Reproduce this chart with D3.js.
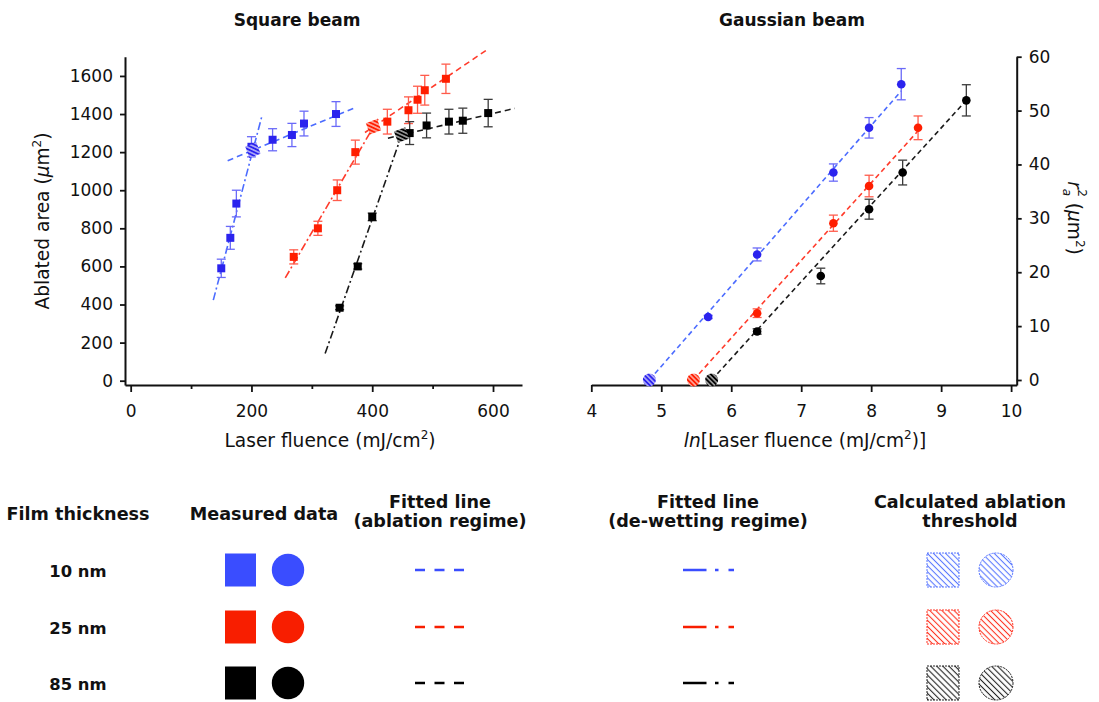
<!DOCTYPE html>
<html>
<head>
<meta charset="utf-8">
<script src="https://cdn.jsdelivr.net/npm/d3@7"></script>
<style>
  body { margin: 0; background: #fff; }
  svg { display: block; }
  text { font-family: "DejaVu Sans", "Liberation Sans", sans-serif; fill: #111; }
</style>
</head>
<body>
<svg id="fig" width="1099" height="702"></svg>
<script>
// ---- film thicknesses and colours ----
const thicknessLabels = ["10 nm", "25 nm", "85 nm"];
const markerColor = ["#2b23ee", "#ff1e00", "#000000"];
const fitColor    = ["#4c6cff", "#ff3b2b", "#1a1a1a"];
const errColor    = ["#6a6af8", "#ff5b4b", "#3a3a3a"];
const legendColor = ["#3a4dff", "#f81e00", "#000000"];
const hatchColor  = ["#5a78ff", "#ff3322", "#222222"];

// ---- square beam: fluence (mJ/cm2) vs ablated area (um2) ----
const sqFluence10 = [150, 165, 175, 200, 235, 267, 287, 340];
const sqArea10    = [590, 750, 930, 1228, 1265, 1290, 1350, 1400];
const sqErr10     = [48, 60, 70, 53, 58, 61, 65, 65];
const sqFluence25 = [270, 310, 342, 372, 425, 460, 475, 487, 522];
const sqArea25    = [650, 800, 1000, 1200, 1360, 1420, 1475, 1525, 1585];
const sqErr25     = [37, 37, 54, 63, 65, 70, 71, 78, 77];
const sqFluence85 = [346, 376, 400, 462, 490, 527, 550, 592];
const sqArea85    = [383, 600, 860, 1300, 1340, 1360, 1365, 1405];
const sqErr85     = [10, 14, 20, 60, 65, 65, 66, 72];

// linear fits, area = slope * fluence + intercept
const sqAblSlope     = [1.32, 2.15, 0.746];
const sqAblIntercept = [943, 468.7, 955.3];
const sqAblRange     = [[160.6, 368.5], [388, 590], [426, 636]];
const sqDewSlope     = [12.0, 5.43, 9.06];
const sqDewIntercept = [-1218.6, -850.3, -2775];
const sqDewRange     = [[136.8, 216.9], [256, 412], [322, 452]];

// ---- gaussian beam: ln(fluence) vs r_a^2 (um2) ----
const gaLnF10 = [5.67, 6.37, 7.46, 7.97, 8.43];
const gaR10   = [11.7, 23.3, 38.5, 46.8, 54.9];
const gaErr10 = [0.3, 1.2, 1.6, 1.9, 2.9];
const gaLnF25 = [6.37, 7.46, 7.97, 8.67];
const gaR25   = [12.4, 29.1, 36.0, 46.8];
const gaErr25 = [0.8, 1.5, 2.0, 2.2];
const gaLnF85 = [6.37, 7.28, 7.97, 8.45, 9.36];
const gaR85   = [9.0, 19.3, 31.7, 38.5, 51.9];
const gaErr85 = [0.5, 1.45, 1.85, 2.3, 2.9];

// fits r^2 = slope * (lnF - lnF_th)
const gaThreshold = [4.83, 5.46, 5.72];
const gaSlope     = [14.9, 14.4, 14.26];
const gaFitEnd    = [8.43, 8.66, 9.36];

// ---- tick values ----
const sqXTicks = [0, 200, 400, 600];
const sqXMinor = [100, 300, 500];
const sqYTicks = [0, 200, 400, 600, 800, 1000, 1200, 1400, 1600];
const gaXTicks = [4, 5, 6, 7, 8, 9, 10];
const gaYTicks = [0, 10, 20, 30, 40, 50, 60];

const zip = (xs, ys, es) => xs.map((x, i) => ({ x, y: ys[i], e: es[i] }));
const sqSeries = [
  zip(sqFluence10, sqArea10, sqErr10),
  zip(sqFluence25, sqArea25, sqErr25),
  zip(sqFluence85, sqArea85, sqErr85)
];
const gaSeries = [
  zip(gaLnF10, gaR10, gaErr10),
  zip(gaLnF25, gaR25, gaErr25),
  zip(gaLnF85, gaR85, gaErr85)
];

const svg = d3.select("#fig");
const defs = svg.append("defs");
const intFmt = d3.format("d");
const TICK_FS = 17, LABEL_FS = 18.6, SUP_FS = 12;

function hatch(id, bg, stroke, gap, width) {
  const p = defs.append("pattern").attr("id", id)
    .attr("patternUnits", "userSpaceOnUse")
    .attr("width", gap).attr("height", gap)
    .attr("patternTransform", "rotate(-45)");
  if (bg) p.append("rect").attr("width", gap).attr("height", gap).attr("fill", bg);
  p.append("line").attr("x1", gap / 2).attr("y1", -1).attr("x2", gap / 2).attr("y2", gap + 1)
    .attr("stroke", stroke).attr("stroke-width", width);
}
[0, 1, 2].forEach(i => {
  hatch("lg" + i, "#fff", hatchColor[i], 4.3, 1.1);
  hatch("mk" + i, markerColor[i], "#fff", 3.4, 1.0);
});

// ---- scales ----
const xL = d3.scaleLinear([-9.4, 648], [125, 522]);
const yL = d3.scaleLinear([-22.6, 1701], [385, 56.7]);
const xR = d3.scaleLinear([4, 10.08], [591.3, 1016.7]);
const yR = d3.scaleLinear([-0.93, 60], [385, 56.7]);

function styleAxis(g, fs) {
  g.attr("font-family", null).attr("font-size", null);
  g.selectAll(".domain").attr("stroke", "#111").attr("stroke-width", 2);
  g.selectAll(".tick line").attr("stroke", "#111").attr("stroke-width", 1.8);
  g.selectAll(".tick text").attr("font-size", fs).attr("fill", "#111");
}

// ---- square beam axes ----
styleAxis(svg.append("g").attr("transform", "translate(0,385)")
  .call(d3.axisBottom(xL).tickValues(sqXTicks).tickFormat(intFmt)
    .tickSize(7).tickSizeOuter(0).tickPadding(13)), TICK_FS);
svg.append("g").attr("transform", "translate(0,385)")
  .call(d3.axisBottom(xL).tickValues(sqXMinor).tickSize(4).tickFormat(""))
  .call(g => g.select(".domain").remove())
  .call(g => styleAxis(g, TICK_FS));
styleAxis(svg.append("g").attr("transform", "translate(125,0)")
  .call(d3.axisLeft(yL).tickValues(sqYTicks).tickFormat(intFmt)
    .tickSize(5).tickSizeOuter(0).tickPadding(7)), TICK_FS);

// ---- gaussian beam axes ----
styleAxis(svg.append("g").attr("transform", "translate(0,385)")
  .call(d3.axisBottom(xR).tickValues(gaXTicks).tickFormat(intFmt)
    .tickSize(7).tickSizeOuter(0).tickPadding(13)), TICK_FS);
styleAxis(svg.append("g").attr("transform", "translate(1016.7,0)")
  .call(d3.axisRight(yR).tickValues(gaYTicks).tickFormat(intFmt)
    .tickSize(5).tickSizeOuter(0).tickPadding(7)), TICK_FS);

// ---- titles and axis labels ----
svg.append("text").attr("x", 297).attr("y", 26).attr("text-anchor", "middle")
  .attr("font-size", 17).attr("font-weight", "bold").text("Square beam");
svg.append("text").attr("x", 792).attr("y", 26).attr("text-anchor", "middle")
  .attr("font-size", 17).attr("font-weight", "bold").text("Gaussian beam");

const xlabL = svg.append("text").attr("x", 330).attr("y", 447).attr("text-anchor", "middle").attr("font-size", LABEL_FS);
xlabL.append("tspan").text("Laser fluence (mJ/cm");
xlabL.append("tspan").attr("font-size", SUP_FS).attr("dy", -8).text("2");
xlabL.append("tspan").attr("dy", 8).text(")");

const xlabR = svg.append("text").attr("x", 805).attr("y", 447).attr("text-anchor", "middle").attr("font-size", LABEL_FS);
xlabR.append("tspan").attr("font-style", "italic").text("ln");
xlabR.append("tspan").text("[Laser fluence (mJ/cm");
xlabR.append("tspan").attr("font-size", SUP_FS).attr("dy", -8).text("2");
xlabR.append("tspan").attr("dy", 8).text(")]");

const ylabL = svg.append("text").attr("transform", "translate(49,221) rotate(-90)")
  .attr("text-anchor", "middle").attr("font-size", LABEL_FS);
ylabL.append("tspan").text("Ablated area (");
ylabL.append("tspan").attr("font-style", "italic").text("\u03bc");
ylabL.append("tspan").text("m");
ylabL.append("tspan").attr("font-size", SUP_FS).attr("dy", -8).text("2");
ylabL.append("tspan").attr("dy", 8).text(")");

const ylabR = svg.append("text").attr("transform", "translate(1068,218) rotate(90)")
  .attr("text-anchor", "middle").attr("font-size", LABEL_FS);
ylabR.append("tspan").attr("font-style", "italic").text("r");
ylabR.append("tspan").attr("font-style", "italic").attr("font-size", SUP_FS).attr("dy", 5).text("a");
ylabR.append("tspan").attr("font-size", SUP_FS).attr("dx", -7).attr("dy", -15).text("2");
ylabR.append("tspan").attr("dy", 10).text(" (");
ylabR.append("tspan").attr("font-style", "italic").text("\u03bc");
ylabR.append("tspan").text("m");
ylabR.append("tspan").attr("font-size", SUP_FS).attr("dy", -8).text("2");
ylabR.append("tspan").attr("dy", 8).text(")");

// ---- square beam fits ----
const plotL = svg.append("g");
[0, 1, 2].forEach(i => {
  const abl = sqAblRange[i].map(x => [xL(x), yL(sqAblSlope[i] * x + sqAblIntercept[i])]);
  const dew = sqDewRange[i].map(x => [xL(x), yL(sqDewSlope[i] * x + sqDewIntercept[i])]);
  plotL.append("path").attr("d", d3.line()(dew)).attr("fill", "none")
    .attr("stroke", fitColor[i]).attr("stroke-width", 1.6).attr("stroke-dasharray", "8,3,2,3");
  plotL.append("path").attr("d", d3.line()(abl)).attr("fill", "none")
    .attr("stroke", fitColor[i]).attr("stroke-width", 1.6).attr("stroke-dasharray", "6,4");
});

// ---- gaussian beam fits ----
const plotR = svg.append("g");
[0, 1, 2].forEach(i => {
  const pts = [gaThreshold[i], gaFitEnd[i]].map(x => [xR(x), yR(gaSlope[i] * (x - gaThreshold[i]))]);
  plotR.append("path").attr("d", d3.line()(pts)).attr("fill", "none")
    .attr("stroke", fitColor[i]).attr("stroke-width", 1.6).attr("stroke-dasharray", "5,3.5");
});

// ---- error bars ----
function errorBars(g, data, xs, ys, color) {
  const eb = g.append("g").attr("stroke", color).attr("stroke-width", 1.3).attr("fill", "none");
  data.forEach(d => {
    const x = xs(d.x), y0 = ys(d.y - d.e), y1 = ys(d.y + d.e);
    eb.append("line").attr("x1", x).attr("x2", x).attr("y1", y0).attr("y2", y1);
    eb.append("line").attr("x1", x - 4.5).attr("x2", x + 4.5).attr("y1", y0).attr("y2", y0);
    eb.append("line").attr("x1", x - 4.5).attr("x2", x + 4.5).attr("y1", y1).attr("y2", y1);
  });
}
[0, 1, 2].forEach(i => {
  errorBars(plotL, sqSeries[i], xL, yL, errColor[i]);
  errorBars(plotR, gaSeries[i], xR, yR, errColor[i]);
});

// ---- markers ----
[0, 1, 2].forEach(i => {
  plotL.append("g").selectAll("rect").data(sqSeries[i]).join("rect")
    .attr("x", d => xL(d.x) - 4).attr("y", d => yL(d.y) - 4)
    .attr("width", 8).attr("height", 8).attr("fill", markerColor[i]);
  plotR.append("g").selectAll("circle").data(gaSeries[i]).join("circle")
    .attr("cx", d => xR(d.x)).attr("cy", d => yR(d.y)).attr("r", 4.3)
    .attr("fill", markerColor[i]);
});

// ---- calculated thresholds ----
[0, 1, 2].forEach(i => {
  const xt = (sqAblIntercept[i] - sqDewIntercept[i]) / (sqDewSlope[i] - sqAblSlope[i]);
  const yt = sqAblSlope[i] * xt + sqAblIntercept[i];
  plotL.append("rect").attr("x", xL(xt) - 6).attr("y", yL(yt) - 6)
    .attr("width", 12).attr("height", 12).attr("fill", `url(#mk${i})`)
    .attr("transform", `rotate(-20,${xL(xt)},${yL(yt)})`);
  plotR.append("circle").attr("cx", xR(gaThreshold[i])).attr("cy", yR(0)).attr("r", 6.5)
    .attr("fill", `url(#mk${i})`);
});

// ---- legend ----
const legend = svg.append("g");
const hdr = (x, y, t, fs) => legend.append("text").attr("x", x).attr("y", y)
  .attr("text-anchor", "middle").attr("font-size", fs).attr("font-weight", "bold").text(t);
const HDR_FS = 17.6, ROW_FS = 16.4;
hdr(78, 520, "Film thickness", HDR_FS);
hdr(264, 520, "Measured data", HDR_FS);
hdr(440, 508, "Fitted line", HDR_FS);
hdr(440, 527, "(ablation regime)", HDR_FS);
hdr(708, 508, "Fitted line", HDR_FS);
hdr(708, 527, "(de-wetting regime)", HDR_FS);
hdr(970, 508, "Calculated ablation", HDR_FS);
hdr(970, 527, "threshold", HDR_FS);

const rowY = [570, 627, 683];
thicknessLabels.forEach((lab, i) => {
  const y = rowY[i];
  hdr(78, y + 7, lab, ROW_FS);
  legend.append("rect").attr("x", 225).attr("y", y - 16.5).attr("width", 31).attr("height", 33)
    .attr("fill", legendColor[i]);
  legend.append("circle").attr("cx", 288).attr("cy", y).attr("r", 16.2).attr("fill", legendColor[i]);
  legend.append("line").attr("x1", 415).attr("x2", 465).attr("y1", y).attr("y2", y)
    .attr("stroke", legendColor[i]).attr("stroke-width", 2.4).attr("stroke-dasharray", "10,9.5");
  legend.append("line").attr("x1", 683).attr("x2", 734).attr("y1", y).attr("y2", y)
    .attr("stroke", legendColor[i]).attr("stroke-width", 2.4).attr("stroke-dasharray", "23.5,8.5,3.5,10,6");
  legend.append("rect").attr("x", 927).attr("y", y - 17).attr("width", 32).attr("height", 34)
    .attr("fill", `url(#lg${i})`).attr("stroke", hatchColor[i]).attr("stroke-width", 1)
    .attr("stroke-dasharray", "2,1");
  legend.append("circle").attr("cx", 996).attr("cy", y).attr("r", 17)
    .attr("fill", `url(#lg${i})`).attr("stroke", hatchColor[i]).attr("stroke-width", 1)
    .attr("stroke-dasharray", "2,1");
});
</script>
</body>
</html>
